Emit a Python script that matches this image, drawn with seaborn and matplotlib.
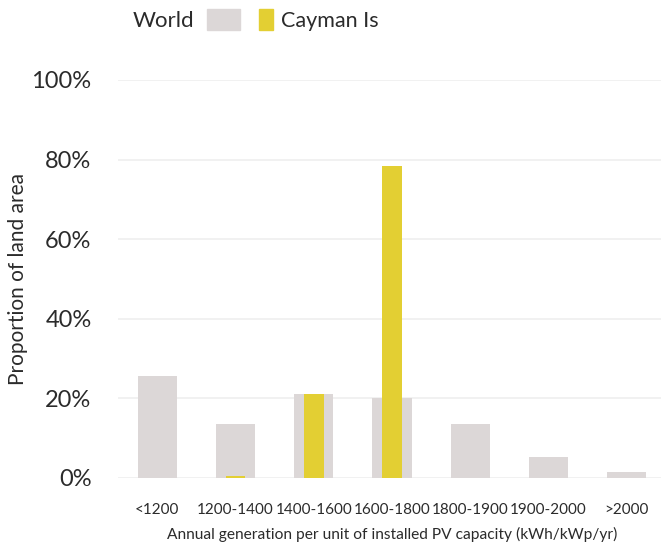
import matplotlib
matplotlib.use("Agg")
import matplotlib.pyplot as plt
import seaborn as sns
import pandas as pd
from matplotlib.patches import Patch

categories = ["<1200", "1200-1400", "1400-1600", "1600-1800", "1800-1900", "1900-2000", ">2000"]
world = [25.6, 13.6, 21.0, 20.0, 13.6, 5.4, 1.5]
cayman = [0.0, 0.5, 21.2, 78.3, 0.0, 0.0, 0.0]
yticks = [0, 20, 40, 60, 80, 100]

sns.set_theme(style="white")
plt.rcParams['font.family'] = ['Lato', 'DejaVu Sans']
txt = "#2b2b2b"
c_world = "#dcd7d7"
c_cay = "#e3cf33"

df = pd.DataFrame({"cat": categories, "world": world, "cayman": cayman})

fig = plt.figure(figsize=(6.61, 5.46), dpi=100)
ax = fig.add_axes([118/661, 68/546, 548/661, 398/546])

sns.barplot(data=df, x="cat", y="world", order=categories, color=c_world,
            width=0.5, saturation=1, linewidth=0, ax=ax, zorder=2)
sns.barplot(data=df, x="cat", y="cayman", order=categories, color=c_cay,
            width=0.25, saturation=1, linewidth=0, ax=ax, zorder=3)

ax.set_ylim(0, 100)
ax.set_xlim(-0.5, 6.5)
ax.set_yticks(yticks)
ax.set_yticklabels([f"{v}%" for v in yticks], fontsize=17, color=txt)
ax.tick_params(axis="x", labelsize=11, labelcolor=txt, length=0, pad=18)
ax.tick_params(axis="y", length=0, pad=19, labelcolor=txt)
ax.yaxis.grid(True, color="#efefef", linewidth=1.2, zorder=0)
ax.set_axisbelow(True)
for s in ax.spines.values():
    s.set_visible(False)

ax.set_xlabel("Annual generation per unit of installed PV capacity (kWh/kWp/yr)",
              fontsize=11.2, color=txt, labelpad=7)
ax.set_ylabel("Proportion of land area", fontsize=15, color=txt)
ax.yaxis.set_label_coords(-0.165, 0.5)

leg1 = fig.legend(handles=[Patch(color=c_world, label="World")], loc="center right",
                  bbox_to_anchor=(240/661, 1 - 20/546), frameon=False, markerfirst=False,
                  fontsize=16, handlelength=1.5, handleheight=1.1, handletextpad=0.55,
                  borderpad=0, borderaxespad=0, labelcolor=txt)
leg2 = fig.legend(handles=[Patch(color=c_cay, label="Cayman Is")], loc="center left",
                  bbox_to_anchor=(259/661, 1 - 20/546), frameon=False,
                  fontsize=15.5, handlelength=0.63, handleheight=1.1, handletextpad=0.4,
                  borderpad=0, borderaxespad=0, labelcolor=txt)

fig.savefig("out.png", dpi=100)
